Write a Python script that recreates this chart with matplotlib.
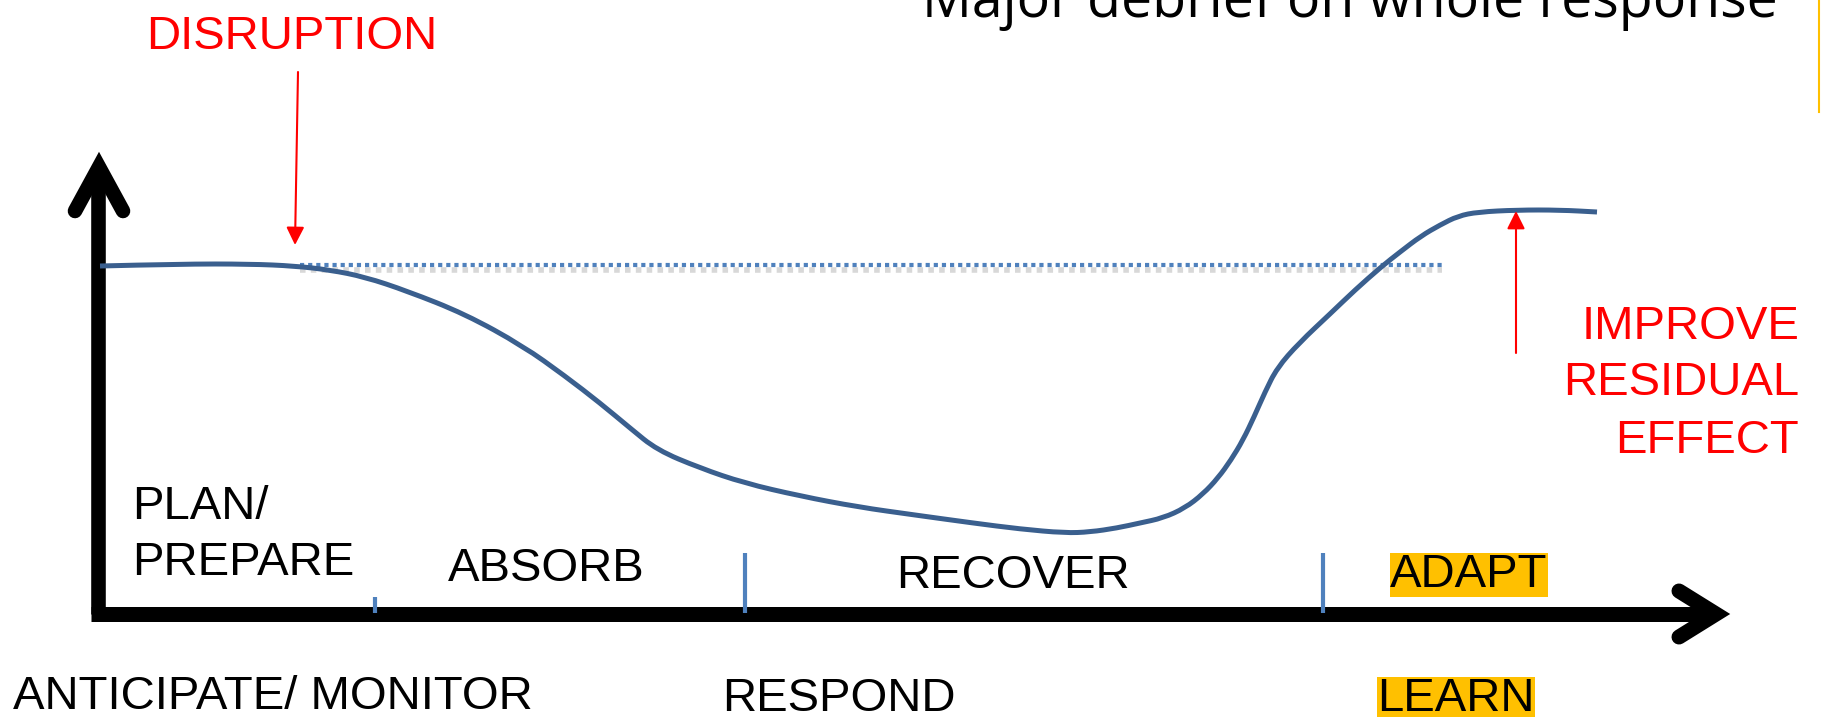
import matplotlib
matplotlib.use('Agg')
import matplotlib.pyplot as plt
from matplotlib.path import Path
import matplotlib.patches as patches

plt.rcParams['font.family'] = 'Liberation Sans'

# performance curve (pixel space of the slide, y grows downwards)
curve_x = [100, 180, 250, 295, 330, 365, 407, 465, 523, 565, 600, 630, 657, 700, 744,
           800, 858, 915, 973, 1020, 1065, 1090, 1117, 1140, 1163, 1185, 1203, 1218,
           1231, 1243, 1254, 1265, 1277, 1299, 1331, 1355, 1381, 1400, 1421, 1440,
           1458, 1478, 1517, 1560, 1597]
curve_y = [266, 264, 264, 266, 270, 277, 291, 314, 346, 376, 403, 428, 450, 468, 483,
           496, 507, 515, 523, 529, 533, 532, 528, 523, 518, 508, 494, 478,
           460, 440, 417, 392, 368, 343, 313, 290, 267, 252, 236, 225,
           216, 212, 210, 210, 212]

# normal level before the disruption
baseline_x = [300, 1442]
baseline_y = [265, 265]

# phase dividers on the time axis
tick_x = [375, 745, 1323]
tick_top = [597, 553, 553]

phase_labels = ['ABSORB', 'RECOVER']
phase_x = [546, 1013]
phase_y = [581, 588]

W, H = 1822, 717
BLUE = '#3A5F8E'
LIGHT = '#4F81BD'
RED = '#FF0000'
YELLOW = '#FFC000'


def smooth_path(xs, ys):
    # quadratic bezier through the midpoints, points act as control points
    pts = list(zip(xs, ys))
    verts = [pts[0]]
    codes = [Path.MOVETO]
    for i in range(1, len(pts) - 1):
        mid = ((pts[i][0] + pts[i + 1][0]) / 2, (pts[i][1] + pts[i + 1][1]) / 2)
        verts += [pts[i], mid]
        codes += [Path.CURVE3, Path.CURVE3]
    verts.append(pts[-1])
    codes.append(Path.LINETO)
    return Path(verts, codes)


fig = plt.figure(figsize=(W / 100, H / 100), dpi=100)
ax = fig.add_axes([0, 0, 1, 1])
ax.set_xlim(0, W)
ax.set_ylim(H, 0)
ax.axis('off')

# axes (thick black arrows)
ax.plot([98, 98], [614, 172], color='black', lw=10.5, solid_capstyle='butt')
ax.plot([91, 1712], [614, 614], color='black', lw=10.8, solid_capstyle='butt')
ax.plot([75, 99, 123], [211, 167, 211], color='black', lw=10.5,
        solid_capstyle='round', solid_joinstyle='miter')
ax.plot([1679, 1716, 1679], [591, 614, 637], color='black', lw=10.8,
        solid_capstyle='round', solid_joinstyle='miter')

# dotted baseline with soft shadow
ax.plot(baseline_x, [y + 5 for y in baseline_y], color='#d8d8d8', lw=4,
        linestyle=(0, (1.0, 0.95)), zorder=1)
ax.plot(baseline_x, baseline_y, color=LIGHT, lw=3, linestyle=(0, (1.0, 0.95)), zorder=2)

# curve
ax.add_patch(patches.PathPatch(smooth_path(curve_x, curve_y), fill=False, ec=BLUE,
                               lw=3.6, joinstyle='round', capstyle='butt', zorder=3))

# phase ticks
for x, t in zip(tick_x, tick_top):
    ax.plot([x, x], [t, 613], color=LIGHT, lw=3, solid_capstyle='butt', zorder=4)

# red annotations
arrow = dict(arrowstyle='-|>,head_length=0.4,head_width=0.2', color=RED, lw=1.5,
             mutation_scale=27, shrinkA=0, shrinkB=0)
ax.annotate('', xy=(295, 245), xytext=(298, 72), arrowprops=arrow)
ax.annotate('', xy=(1516, 211), xytext=(1516, 353), arrowprops=arrow)

ax.text(292, 49, 'DISRUPTION', color=RED, fontsize=34, ha='center', va='baseline')
for s, y in zip(['IMPROVE', 'RESIDUAL', 'EFFECT'], [339, 395, 453]):
    ax.text(1799, y, s, color=RED, fontsize=34, ha='right', va='baseline')

# phase labels
ax.text(132, 519, 'PLAN/', fontsize=34, va='baseline')
ax.text(132, 575, 'PREPARE', fontsize=34, va='baseline')
for s, x, y in zip(phase_labels, phase_x, phase_y):
    ax.text(x, y, s, fontsize=34, ha='center', va='baseline')
box = dict(boxstyle='square,pad=0', fc=YELLOW, ec='none')
ax.text(1390, 587, 'ADAPT', fontsize=34, va='baseline', bbox=box)

ax.text(13, 709, 'ANTICIPATE/ MONITOR', fontsize=34, va='baseline')
ax.text(722, 711, 'RESPOND', fontsize=34, va='baseline')
ax.text(1377, 711, 'LEARN', fontsize=34, va='baseline', bbox=box)

# slide title cut off at the top
ax.text(1778, 17, 'Major debrief on whole response', fontsize=40, family='Open Sans',
        ha='right', va='baseline')
ax.plot([1819, 1819], [0, 112], color=YELLOW, lw=1.5)

fig.savefig('out.png', dpi=100)
